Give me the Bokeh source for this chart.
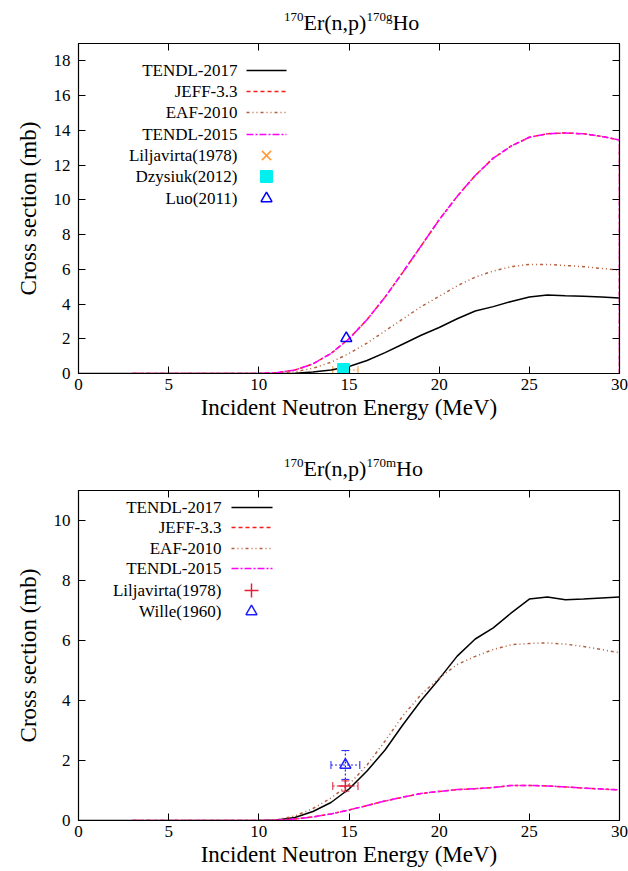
from bokeh.plotting import figure
from bokeh.layouts import column
from bokeh.models import LinearAxis, Label, Range1d, FixedTicker, Whisker, ColumnDataSource, TeeHead, Div
from bokeh.embed import file_html
from bokeh.resources import INLINE

# ---------------- data ----------------
x_ticks = [0, 5, 10, 15, 20, 25, 30]
y_ticks_g = [0, 2, 4, 6, 8, 10, 12, 14, 16, 18]
y_ticks_m = [0, 2, 4, 6, 8, 10]

energy_full = [0, 1, 2, 3, 4, 5, 6, 7, 8, 9, 10, 11, 12, 13, 14, 15, 16, 17, 18, 19, 20,
               21, 22, 23, 24, 25, 26, 27, 28, 29, 30]
energy_eval = [3, 4, 5, 6, 7, 8, 9, 10, 11, 12, 13, 14, 15, 16, 17, 18, 19, 20,
               21, 22, 23, 24, 25, 26, 27, 28, 29, 30]
energy_eval_end = [3, 4, 5, 6, 7, 8, 9, 10, 11, 12, 13, 14, 15, 16, 17, 18, 19, 20,
                   21, 22, 23, 24, 25, 26, 27, 28, 29, 30, 30]

# 170Er(n,p)170gHo
title_g = ("170", "Er(n,p)", "170g", "Ho")
g_tendl2017 = [0, 0, 0, 0, 0, 0, 0, 0, 0, 0, 0, 0, 0.02, 0.08, 0.2, 0.4, 0.75, 1.2, 1.7, 2.2,
               2.65, 3.15, 3.6, 3.85, 4.15, 4.4, 4.52, 4.48, 4.45, 4.4, 4.35]
g_jeff33 = [0, 0, 0, 0, 0, 0, 0, 0.005, 0.05, 0.2, 0.55, 1.15, 2.0, 3.1, 4.4, 5.85, 7.35, 8.85,
            10.2, 11.4, 12.4, 13.1, 13.6, 13.8, 13.85, 13.8, 13.65, 13.45, 0]
g_eaf2010 = [0, 0, 0, 0, 0, 0, 0, 0, 0.02, 0.1, 0.3, 0.65, 1.15, 1.75, 2.45, 3.15, 3.85, 4.45,
             5.05, 5.55, 5.9, 6.15, 6.28, 6.28, 6.22, 6.15, 6.05, 5.95]
g_tendl2015 = [0, 0, 0, 0, 0, 0, 0, 0.005, 0.05, 0.2, 0.55, 1.15, 2.0, 3.1, 4.4, 5.85, 7.35, 8.85,
               10.2, 11.4, 12.4, 13.1, 13.6, 13.8, 13.85, 13.8, 13.65, 13.45, 0]

g_lilj_e, g_lilj_s, g_lilj_de = [14.8], [0.2], [0.7]
g_dzys_e, g_dzys_s = [14.7], [0.23]
g_luo_e, g_luo_s = [14.85], [2.03]

# 170Er(n,p)170mHo
title_m = ("170", "Er(n,p)", "170m", "Ho")
m_tendl2017 = [0, 0, 0, 0, 0, 0, 0, 0, 0, 0, 0, 0.02, 0.1, 0.3, 0.6, 1.05, 1.65, 2.35, 3.2, 4.0,
               4.72, 5.48, 6.05, 6.42, 6.92, 7.38, 7.45, 7.36, 7.38, 7.42, 7.45]
m_jeff33 = [0, 0, 0, 0, 0, 0, 0, 0, 0.01, 0.05, 0.12, 0.22, 0.35, 0.5, 0.65, 0.78, 0.9, 0.97,
            1.03, 1.06, 1.1, 1.17, 1.17, 1.15, 1.12, 1.08, 1.05, 1.02]
m_eaf2010 = [0, 0, 0, 0, 0, 0, 0, 0, 0.03, 0.15, 0.4, 0.75, 1.2, 1.85, 2.65, 3.5, 4.2, 4.75,
             5.2, 5.47, 5.7, 5.86, 5.9, 5.92, 5.88, 5.8, 5.7, 5.59]
m_tendl2015 = [0, 0, 0, 0, 0, 0, 0, 0, 0.01, 0.05, 0.12, 0.22, 0.35, 0.5, 0.65, 0.78, 0.9, 0.97,
               1.03, 1.06, 1.1, 1.17, 1.17, 1.15, 1.12, 1.08, 1.05, 1.02]

m_lilj_e, m_lilj_s, m_lilj_de, m_lilj_ds = [14.8], [1.15], [0.7], [0.17]
m_wille_e, m_wille_s, m_wille_de, m_wille_ds = [14.8], [1.85], [0.8], [0.48]

# ---------------- style / layout ----------------
FONT = "Liberation Serif"
W = 628
BL, BR = 78, 9
FW, FH = 541, 330
C_T17, C_JEFF, C_EAF, C_T15 = "black", "#ff1a1a", "#b5603f", "#ff00ff"
D_JEFF, D_EAF, D_T15 = "4 3", "3 3 1 3 1 3", "7 2 2 2"
LW = 1.5


def make_title(parts, height, pad_top):
    pre, mid, sup, post = parts
    sup_style = "font-size:13px;vertical-align:9px;line-height:0;"
    html = (f'<div style="font-family:\'{FONT}\';font-size:22px;line-height:22px;color:black;'
            f'padding-top:{pad_top}px;padding-left:284px;white-space:nowrap;">'
            f'<span style="{sup_style}">{pre}</span>{mid}'
            f'<span style="{sup_style}">{sup}</span>{post}</div>')
    return Div(text=html, width=W, height=height, margin=(0, 0, 0, 0))


def make_fig(height, top_border, ymax, yticks):
    p = figure(width=W, height=height, x_range=Range1d(0, 30), y_range=Range1d(0, ymax),
               output_backend="svg", toolbar_location=None,
               min_border_left=BL, min_border_right=BR, min_border_top=top_border,
               min_border_bottom=height - top_border - FH)
    p.outline_line_color = "black"
    p.outline_line_width = 1.2
    p.xgrid.visible = False
    p.ygrid.visible = False
    p.background_fill_color = "white"
    p.border_fill_color = "white"
    p.xaxis.ticker = FixedTicker(ticks=x_ticks)
    p.yaxis.ticker = FixedTicker(ticks=yticks)
    p.xaxis.axis_label = "Incident Neutron Energy (MeV)"
    p.yaxis.axis_label = "Cross section (mb)"
    for ax in [p.xaxis[0], p.yaxis[0]]:
        ax.major_tick_in = 7
        ax.major_tick_out = 0
        ax.minor_tick_line_color = None
        ax.major_label_text_font = FONT
        ax.major_label_text_font_size = "17px"
        ax.major_label_text_color = "black"
        ax.axis_label_text_font = FONT
        ax.axis_label_text_font_size = "23px"
        ax.axis_label_text_font_style = "normal"
        ax.axis_label_text_color = "black"
        ax.axis_line_color = "black"
        ax.major_tick_line_color = "black"
    p.xaxis.major_label_standoff = 5
    p.xaxis.axis_label_standoff = 2
    p.yaxis.major_label_standoff = 8
    p.yaxis.axis_label_standoff = 10
    # mirrored ticks (no labels)
    for side, tk in (("right", yticks), ("above", x_ticks)):
        ax = LinearAxis(ticker=FixedTicker(ticks=tk), major_tick_in=7, major_tick_out=0,
                        minor_tick_line_color=None, major_label_text_font_size="1px",
                        major_label_text_color=None, major_label_standoff=0,
                        axis_line_color="black")
        p.add_layout(ax, side)
    return p


def legend(p, ymax, entries, rows, text_right, s0, s1, mk):
    xs = 30.0 / FW
    ys = ymax / FH
    for (name, kind, st), r in zip(entries, rows):
        p.add_layout(Label(x=0, y=ymax, x_offset=text_right, y_offset=-r, text=name,
                           text_font=FONT, text_font_size="17px", text_color="black",
                           text_align="right", text_baseline="middle"))
        yy = ymax - r * ys
        if kind == "line":
            p.line([s0 * xs, s1 * xs], [yy, yy], **st)
        else:
            p.scatter([mk * xs], [yy], **st)


# ---------------- top plot ----------------
d1 = make_title(title_g, 36, 12)
p1 = make_fig(400, 7, 19, y_ticks_g)
p1.line(energy_full, g_tendl2017, line_color=C_T17, line_width=LW)
p1.line(energy_eval_end, g_jeff33, line_color=C_JEFF, line_width=LW, line_dash=D_JEFF)
p1.line(energy_eval, g_eaf2010, line_color=C_EAF, line_width=LW, line_dash=D_EAF)
p1.line(energy_eval_end, g_tendl2015, line_color=C_T15, line_width=LW, line_dash=D_T15)

src = ColumnDataSource(dict(y=g_lilj_s, lo=[e - d for e, d in zip(g_lilj_e, g_lilj_de)],
                            hi=[e + d for e, d in zip(g_lilj_e, g_lilj_de)]))
p1.add_layout(Whisker(source=src, base="y", lower="lo", upper="hi", dimension="width",
                      line_color="#ff9933", line_dash="2 2", line_width=1,
                      lower_head=TeeHead(size=8, line_color="#ff9933"),
                      upper_head=TeeHead(size=8, line_color="#ff9933")))
p1.scatter(g_lilj_e, g_lilj_s, marker="x", size=13, line_color="#ff9933", line_width=1.5)
p1.scatter(g_dzys_e, g_dzys_s, marker="square", size=12, fill_color="#00f0f0", line_color="#00f0f0")
p1.scatter(g_luo_e, g_luo_s, marker="triangle", size=11, fill_color=None, line_color="#0000ff",
           line_width=1.5)

legend(p1, 19, [
    ("TENDL-2017", "line", dict(line_color=C_T17, line_width=LW)),
    ("JEFF-3.3", "line", dict(line_color=C_JEFF, line_width=LW, line_dash=D_JEFF)),
    ("EAF-2010", "line", dict(line_color=C_EAF, line_width=LW, line_dash=D_EAF)),
    ("TENDL-2015", "line", dict(line_color=C_T15, line_width=LW, line_dash=D_T15)),
    ("Liljavirta(1978)", "pt", dict(marker="x", size=13, line_color="#ff9933", line_width=1.5)),
    ("Dzysiuk(2012)", "pt", dict(marker="square", size=12, fill_color="#00f0f0", line_color="#00f0f0")),
    ("Luo(2011)", "pt", dict(marker="triangle", size=11, fill_color=None, line_color="#0000ff",
                             line_width=1.5)),
], [27, 48, 69, 91, 112, 133, 155], 159, 168, 208, 188)

# ---------------- bottom plot ----------------
d2 = make_title(title_m, 46, 22)
p2 = make_fig(389, 8, 11, y_ticks_m)
p2.line(energy_full, m_tendl2017, line_color=C_T17, line_width=LW)
p2.line(energy_eval, m_jeff33, line_color=C_JEFF, line_width=LW, line_dash=D_JEFF)
p2.line(energy_eval, m_eaf2010, line_color=C_EAF, line_width=LW, line_dash=D_EAF)
p2.line(energy_eval, m_tendl2015, line_color=C_T15, line_width=LW, line_dash=D_T15)

for e_, s_, de_, ds_, col in ((m_lilj_e, m_lilj_s, m_lilj_de, m_lilj_ds, "#e0203a"),
                              (m_wille_e, m_wille_s, m_wille_de, m_wille_ds, "#2020ff")):
    sx = ColumnDataSource(dict(y=s_, lo=[e - d for e, d in zip(e_, de_)],
                               hi=[e + d for e, d in zip(e_, de_)]))
    sy = ColumnDataSource(dict(x=e_, lo=[s - d for s, d in zip(s_, ds_)],
                               hi=[s + d for s, d in zip(s_, ds_)]))
    p2.add_layout(Whisker(source=sx, base="y", lower="lo", upper="hi", dimension="width",
                          line_color=col, line_dash="2 2", line_width=1.2,
                          lower_head=TeeHead(size=8, line_color=col),
                          upper_head=TeeHead(size=8, line_color=col)))
    p2.add_layout(Whisker(source=sy, base="x", lower="lo", upper="hi", dimension="height",
                          line_color=col, line_dash="2 2", line_width=1.2,
                          lower_head=TeeHead(size=8, line_color=col),
                          upper_head=TeeHead(size=8, line_color=col)))
p2.scatter(m_lilj_e, m_lilj_s, marker="cross", size=14, line_color="#e0203a", line_width=1.5)
p2.scatter(m_wille_e, m_wille_s, marker="triangle", size=11, fill_color=None, line_color="#2020ff",
           line_width=1.5)

legend(p2, 11, [
    ("TENDL-2017", "line", dict(line_color=C_T17, line_width=LW)),
    ("JEFF-3.3", "line", dict(line_color=C_JEFF, line_width=LW, line_dash=D_JEFF)),
    ("EAF-2010", "line", dict(line_color=C_EAF, line_width=LW, line_dash=D_EAF)),
    ("TENDL-2015", "line", dict(line_color=C_T15, line_width=LW, line_dash=D_T15)),
    ("Liljavirta(1978)", "pt", dict(marker="cross", size=14, line_color="#e0203a", line_width=1.5)),
    ("Wille(1960)", "pt", dict(marker="triangle", size=11, fill_color=None, line_color="#2020ff",
                               line_width=1.5)),
], [17, 37, 58, 78, 100, 121], 143, 153, 194, 173)

layout = column(d1, p1, d2, p2, spacing=0)
open("out.html", "w").write(file_html(layout, INLINE))
